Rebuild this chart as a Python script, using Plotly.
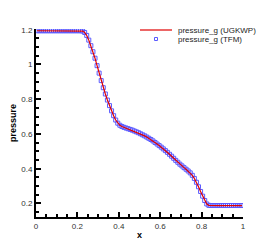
import plotly.graph_objects as go

x_vals = [0.005, 0.015, 0.025, 0.035, 0.045, 0.055, 0.065, 0.075, 0.085, 0.095,
          0.105, 0.115, 0.125, 0.135, 0.145, 0.155, 0.165, 0.175, 0.185, 0.195,
          0.205, 0.215, 0.225, 0.235, 0.245, 0.255, 0.265, 0.275, 0.285, 0.295,
          0.305, 0.315, 0.325, 0.335, 0.345, 0.355, 0.365, 0.375, 0.385, 0.395,
          0.405, 0.415, 0.425, 0.435, 0.445, 0.455, 0.465, 0.475, 0.485, 0.495,
          0.505, 0.515, 0.525, 0.535, 0.545, 0.555, 0.565, 0.575, 0.585, 0.595,
          0.605, 0.615, 0.625, 0.635, 0.645, 0.655, 0.665, 0.675, 0.685, 0.695,
          0.705, 0.715, 0.725, 0.735, 0.745, 0.755, 0.765, 0.775, 0.785, 0.795,
          0.805, 0.815, 0.825, 0.835, 0.845, 0.855, 0.865, 0.875, 0.885, 0.895,
          0.905, 0.915, 0.925, 0.935, 0.945, 0.955, 0.965, 0.975, 0.985, 0.995]

p_ugkwp = [1.194, 1.194, 1.194, 1.194, 1.194, 1.194, 1.194, 1.194, 1.194, 1.194,
           1.194, 1.194, 1.194, 1.194, 1.194, 1.194, 1.194, 1.194, 1.194, 1.194,
           1.194, 1.194, 1.192, 1.184, 1.167, 1.140, 1.108, 1.073, 1.036, 0.993,
           0.950, 0.907, 0.866, 0.830, 0.795, 0.763, 0.733, 0.705, 0.680, 0.662,
           0.650, 0.643, 0.638, 0.634, 0.630, 0.626, 0.622, 0.617, 0.612, 0.607,
           0.601, 0.595, 0.589, 0.582, 0.575, 0.568, 0.560, 0.551, 0.542, 0.533,
           0.524, 0.514, 0.504, 0.494, 0.483, 0.472, 0.460, 0.448, 0.437, 0.426,
           0.416, 0.406, 0.397, 0.387, 0.376, 0.362, 0.344, 0.322, 0.296, 0.269,
           0.242, 0.217, 0.197, 0.189, 0.188, 0.188, 0.188, 0.188, 0.188, 0.188,
           0.188, 0.188, 0.188, 0.188, 0.188, 0.188, 0.188, 0.188, 0.188, 0.188]

p_tfm = [1.194, 1.194, 1.194, 1.194, 1.194, 1.194, 1.194, 1.194, 1.194, 1.194,
         1.194, 1.194, 1.194, 1.194, 1.194, 1.194, 1.194, 1.194, 1.194, 1.194,
         1.194, 1.194, 1.192, 1.184, 1.167, 1.140, 1.108, 1.073, 1.036, 0.993,
         0.950, 0.907, 0.866, 0.830, 0.795, 0.763, 0.733, 0.705, 0.680, 0.662,
         0.650, 0.643, 0.638, 0.634, 0.630, 0.626, 0.622, 0.617, 0.612, 0.607,
         0.601, 0.595, 0.589, 0.582, 0.575, 0.568, 0.560, 0.551, 0.542, 0.533,
         0.524, 0.514, 0.504, 0.494, 0.483, 0.472, 0.460, 0.448, 0.437, 0.426,
         0.416, 0.406, 0.397, 0.387, 0.376, 0.362, 0.344, 0.322, 0.296, 0.269,
         0.242, 0.217, 0.197, 0.189, 0.188, 0.188, 0.188, 0.188, 0.188, 0.188,
         0.188, 0.188, 0.188, 0.188, 0.188, 0.188, 0.188, 0.188, 0.188, 0.188]

x_ticks = [0, 0.2, 0.4, 0.6, 0.8, 1]
x_tick_text = ["0", "0.2", "0.4", "0.6", "0.8", "1"]
y_ticks = [0.2, 0.4, 0.6, 0.8, 1.0, 1.2]
y_tick_text = ["0.2", "0.4", "0.6", "0.8", "1", "1.2"]
legend_names = ["pressure_g (UGKWP)", "pressure_g (TFM)"]

line_color = "#e00000"
marker_color = "#5a5aff"

fig = go.Figure()
fig.add_trace(go.Scatter(
    x=x_vals, y=p_tfm, mode="markers", name=legend_names[1], showlegend=False,
    marker=dict(symbol="square-open", size=4, color=marker_color,
                line=dict(color=marker_color, width=1)),
))
fig.add_trace(go.Scatter(
    x=x_vals, y=p_ugkwp, mode="lines", name=legend_names[0], showlegend=False,
    line=dict(color=line_color, width=1.2),
))

font = "Liberation Sans, Arial, sans-serif"

# page body has an 8px margin; work in screen pixels and convert
OFF = 8.0
PW, PH, L, T = 207.0, 188.0, 36.0 - OFF, 29.0 - OFF
def px(xs):
    return (xs - OFF - L) / PW
def py(ys):
    return (T + PH - (ys - OFF)) / PH

shapes = [
    dict(type="line", xref="paper", yref="paper",
         x0=px(140), x1=px(172), y0=py(30), y1=py(30),
         line=dict(color=line_color, width=1.2)),
    dict(type="rect", xref="paper", yref="paper",
         x0=px(154.5), x1=px(157.5), y0=py(40.5), y1=py(37.5),
         line=dict(color=marker_color, width=1)),
]
annotations = [
    dict(text=legend_names[0], xref="paper", yref="paper", x=px(176), y=py(30),
         xanchor="left", yanchor="middle", showarrow=False,
         font=dict(family=font, size=8, color="#222222")),
    dict(text=legend_names[1], xref="paper", yref="paper", x=px(176), y=py(39),
         xanchor="left", yanchor="middle", showarrow=False,
         font=dict(family=font, size=8, color="#222222")),
]

axis_common = dict(
    showline=True, linecolor="black", linewidth=2, mirror=False,
    ticks="inside", ticklen=5, tickwidth=1.5, tickcolor="black",
    showgrid=False, zeroline=False, automargin=False,
    tickfont=dict(family=font, size=8, color="#333333"),
)
fig.update_layout(
    width=268, height=237,
    margin=dict(l=28, r=33, t=21, b=28),
    paper_bgcolor="white", plot_bgcolor="white",
    showlegend=False,
    shapes=shapes, annotations=annotations,
    xaxis=dict(range=[0, 1], tickvals=x_ticks, ticktext=x_tick_text,
               minor=dict(ticks="inside", ticklen=3, dtick=0.05, tickcolor="black"),
               title=dict(text="<b>x</b>", font=dict(family=font, size=9, color="black"),
                          standoff=2),
               **axis_common),
    yaxis=dict(range=[0.122, 1.204], tickvals=y_ticks, ticktext=y_tick_text,
               minor=dict(ticks="inside", ticklen=3, dtick=0.05, tickcolor="black"),
               title=dict(text="<b>pressure</b>", font=dict(family=font, size=9, color="black"),
                          standoff=4),
               **axis_common),
)

fig.write_html("out.html")
